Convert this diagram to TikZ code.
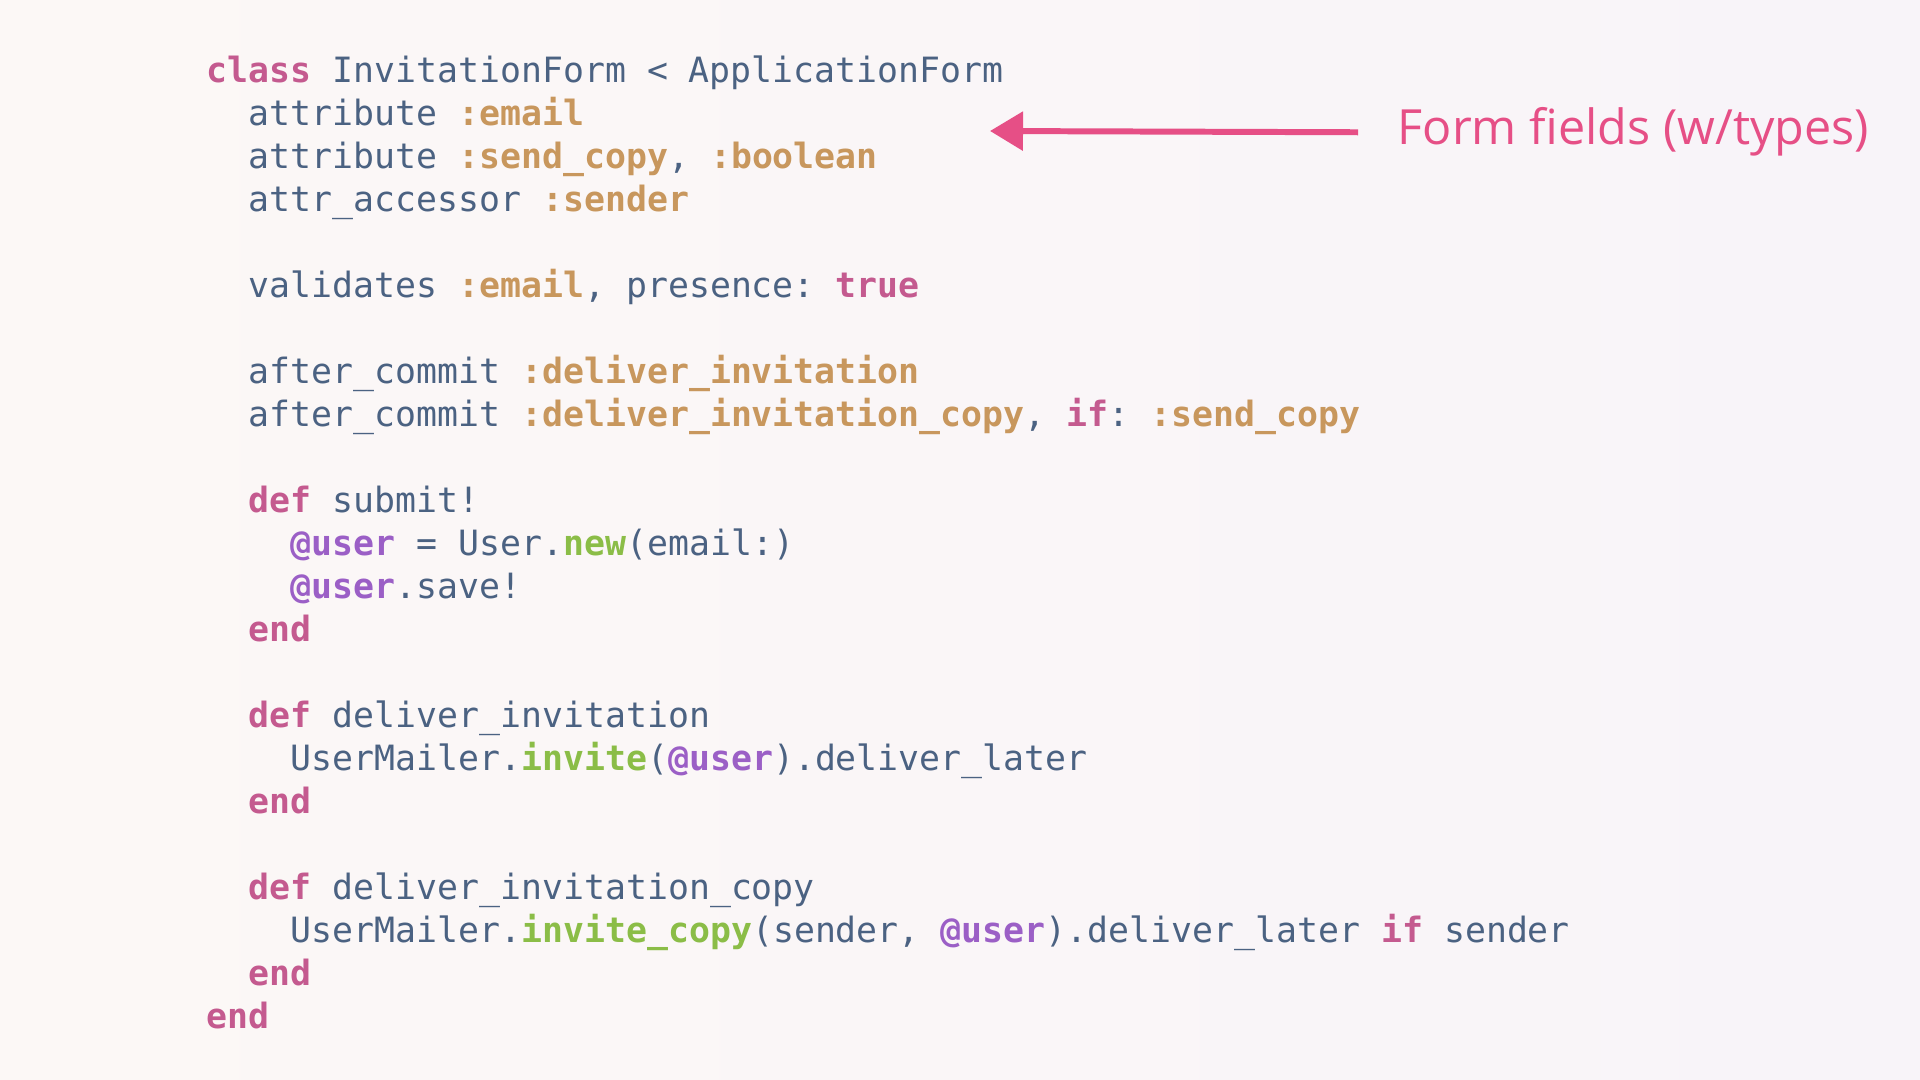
\documentclass[tikz,border=0pt]{standalone}
\usepackage{fontspec}
\usetikzlibrary{arrows.meta}
\newfontfamily\codefont{DejaVu Sans Mono}
\newfontfamily\notefont{Open Sans}
\definecolor{codeblue}{HTML}{4B6282}
\definecolor{kwpink}{HTML}{C45A8F}
\definecolor{symtan}{HTML}{C8975D}
\definecolor{methgreen}{HTML}{8BBD47}
\definecolor{ivarpurple}{HTML}{9B5FC6}
\definecolor{notepink}{HTML}{E64F86}
\definecolor{bgleft}{HTML}{FCF8F6}
\definecolor{bgright}{HTML}{F8F4F9}
\newcommand{\kw}[1]{\textcolor{kwpink}{\bfseries #1}}
\newcommand{\sym}[1]{\textcolor{symtan}{\bfseries #1}}
\newcommand{\ivar}[1]{\textcolor{ivarpurple}{\bfseries #1}}
\newcommand{\meth}[1]{\textcolor{methgreen}{\bfseries #1}}
\begin{document}
\begin{tikzpicture}
[codeline/.style={anchor=base west,inner sep=0pt,text=codeblue,%
  font=\codefont\fontsize{9.91pt}{12pt}\selectfont\frenchspacing},%
  notelabel/.style={anchor=base west,inner sep=0pt,text=notepink,%
  font=\notefont\fontsize{13.8pt}{16pt}\selectfont},%
  notearrow/.style={draw=notepink,line width=1.7pt,%
  -{Triangle[length=0.33cm,width=0.38cm]}}]
%% background
\shade[left color=bgleft,right color=bgright] (0,0) rectangle (19.2,-10.8);
%% code lines
\foreach \linename/\row/\col/\codetext in {
  classline/0/0/{\kw{class} InvitationForm < ApplicationForm},
  attremail/1/2/{attribute \sym{:email}},
  attrcopy/2/2/{attribute \sym{:send\_copy}, \sym{:boolean}},
  attrsender/3/2/{attr\_accessor \sym{:sender}},
  validemail/5/2/{validates \sym{:email}, presence: \kw{true}},
  commitone/7/2/{after\_commit \sym{:deliver\_invitation}},
  committwo/8/2/{after\_commit \sym{:deliver\_invitation\_copy}, \kw{if}: \sym{:send\_copy}},
  submitdef/10/2/{\kw{def} submit!},
  submitnew/11/4/{\ivar{@user} = User.\meth{new}(email:)},
  submitsave/12/4/{\ivar{@user}.save!},
  submitend/13/2/{\kw{end}},
  deliverdef/15/2/{\kw{def} deliver\_invitation},
  deliverbody/16/4/{UserMailer.\meth{invite}(\ivar{@user}).deliver\_later},
  deliverend/17/2/{\kw{end}},
  copydef/19/2/{\kw{def} deliver\_invitation\_copy},
  copybody/20/4/{UserMailer.\meth{invite\_copy}(sender, \ivar{@user}).deliver\_later \kw{if} sender},
  copyend/21/2/{\kw{end}},
  classend/22/0/{\kw{end}}} {
  \node[codeline] (\linename) at ({2.06+0.2102*\col},{-0.83-0.43*\row}) {\codetext};
}
%% annotation
\node[notelabel] (fieldnote) at (13.97,-1.45) {Form fields (w/types)};
\coordinate (fieldtip) at (9.90,-1.31);
\draw[notearrow] ([xshift=-0.39cm]fieldnote.west) -- (fieldtip);
\end{tikzpicture}
\end{document}
